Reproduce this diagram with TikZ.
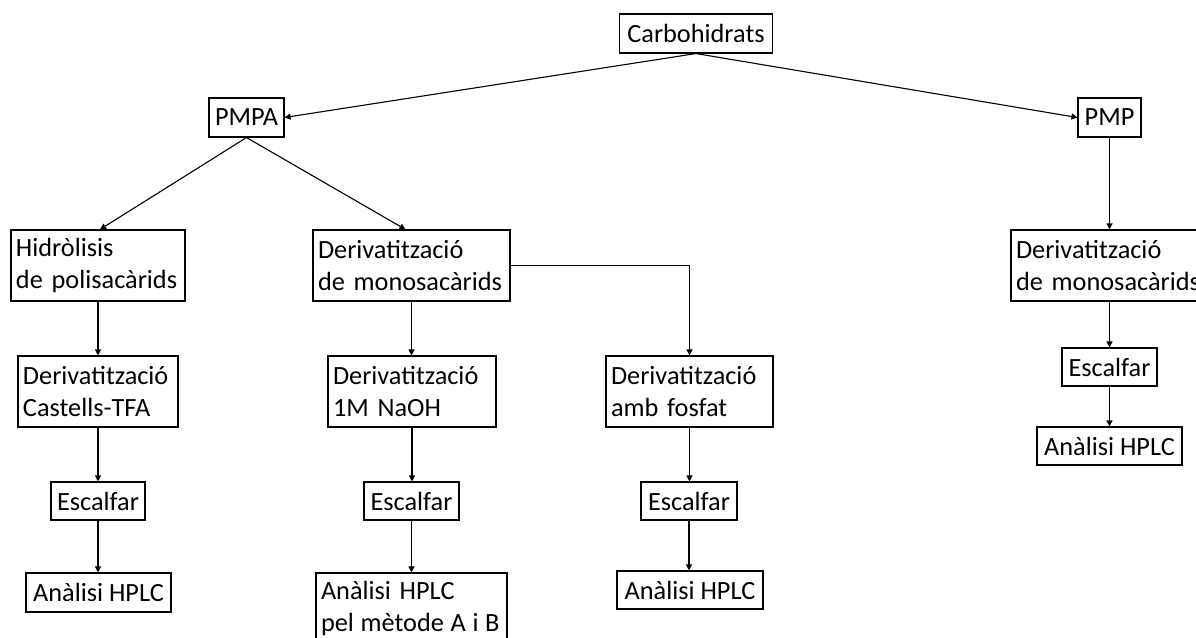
\documentclass[tikz,border=0pt]{standalone}
\usepackage{fontspec}
\setmainfont{Carlito}
\usetikzlibrary{arrows.meta,calc}
\begin{document}
\begin{tikzpicture}[x=1pt,y=-1pt,
  every node/.style={font=\fontsize{26.3pt}{32pt}\selectfont},
  bx/.style={draw, line width=1.1pt, inner xsep=5pt, inner ysep=0pt, minimum height=39pt, align=center},
  bxtwo/.style={draw, line width=1.1pt, inner xsep=5pt, inner ysep=0pt, minimum height=71pt, align=left},
  arr/.style={line width=1.1pt, -{Triangle[length=6pt,width=6pt]}},
  ln/.style={line width=1.1pt}]
\useasboundingbox (0,0) rectangle (1196,637);
\clip (0,0) rectangle (1196,637);

\node[bx, minimum width=153pt] (carb) at (696,33.5) {Carbohidrats};
\node[bx, minimum width=75pt] (pmpa) at (246.5,117.5) {PMPA};
\node[bx, minimum width=63pt] (pmp) at (1109.5,117.5) {PMP};

\node[bxtwo, text width=164pt] (hid) at (98,265.5) {\mbox{Hidròlisis}\\\mbox{de polisacàrids}};
\node[bxtwo, text width=187pt] (dm) at (411.5,265.5) {\mbox{Derivatització}\\\mbox{de monosacàrids}};
\node[bxtwo, text width=187pt] (dmb) at (1109.5,265.5) {\mbox{Derivatització}\\\mbox{de monosacàrids}};

\node[bxtwo, text width=150pt] (dct) at (98,391.5) {\mbox{Derivatització}\\\mbox{Castells-TFA}};
\node[bxtwo, text width=158pt] (dna) at (412,391.5) {\mbox{Derivatització}\\\mbox{1M NaOH}};
\node[bxtwo, text width=157pt] (dfo) at (689.5,391.5) {\mbox{Derivatització}\\\mbox{amb fosfat}};

\node[bx, minimum width=94pt, minimum height=38pt] (esca) at (98,501) {Escalfar};
\node[bx, minimum width=95pt, minimum height=38pt] (escb) at (411.5,501) {Escalfar};
\node[bx, minimum width=96pt, minimum height=38pt] (escc) at (689,501) {Escalfar};
\node[bx, minimum width=95pt, minimum height=38pt] (escd) at (1109.5,367) {Escalfar};

\node[bx, minimum width=145pt] (ana) at (98.5,592.5) {Anàlisi HPLC};
\node[bxtwo, text width=181pt] (anb) at (411.5,608.5) {\mbox{Anàlisi HPLC}\\\mbox{\spaceskip=6.7pt pel mètode A i B}};
\node[bx, minimum width=146pt, minimum height=38pt] (anc) at (690,590) {Anàlisi HPLC};
\node[bx, minimum width=145pt, minimum height=38pt] (and) at (1109.5,446) {Anàlisi HPLC};

\draw[arr] (carb.south) -- (pmpa.east);
\draw[arr] (carb.south) -- (pmp.west);
\draw[arr] (pmpa.south) -- ($(hid.north)+(2,0)$);
\draw[arr] (pmpa.south) -- ($(dm.north)+(-6,0)$);
\draw[arr] (dm.east) -| (dfo.north);

\draw[arr] (hid.south) -- (dct.north);
\draw[arr] (dct.south) -- (esca.north);
\draw[arr] (esca.south) -- (ana.north -| esca.south);

\draw[arr] (dm.south) -- (dna.north -| dm.south);
\draw[arr] (dna.south) -- (escb.north -| dna.south);
\draw[arr] (escb.south) -- (anb.north);

\draw[arr] (dfo.south) -- (escc.north -| dfo.south);
\draw[arr] (escc.south) -- (anc.north -| escc.south);

\draw[arr] (pmp.south) -- (dmb.north);
\draw[arr] (dmb.south) -- (escd.north);
\draw[arr] (escd.south) -- (and.north);
\end{tikzpicture}
\end{document}
